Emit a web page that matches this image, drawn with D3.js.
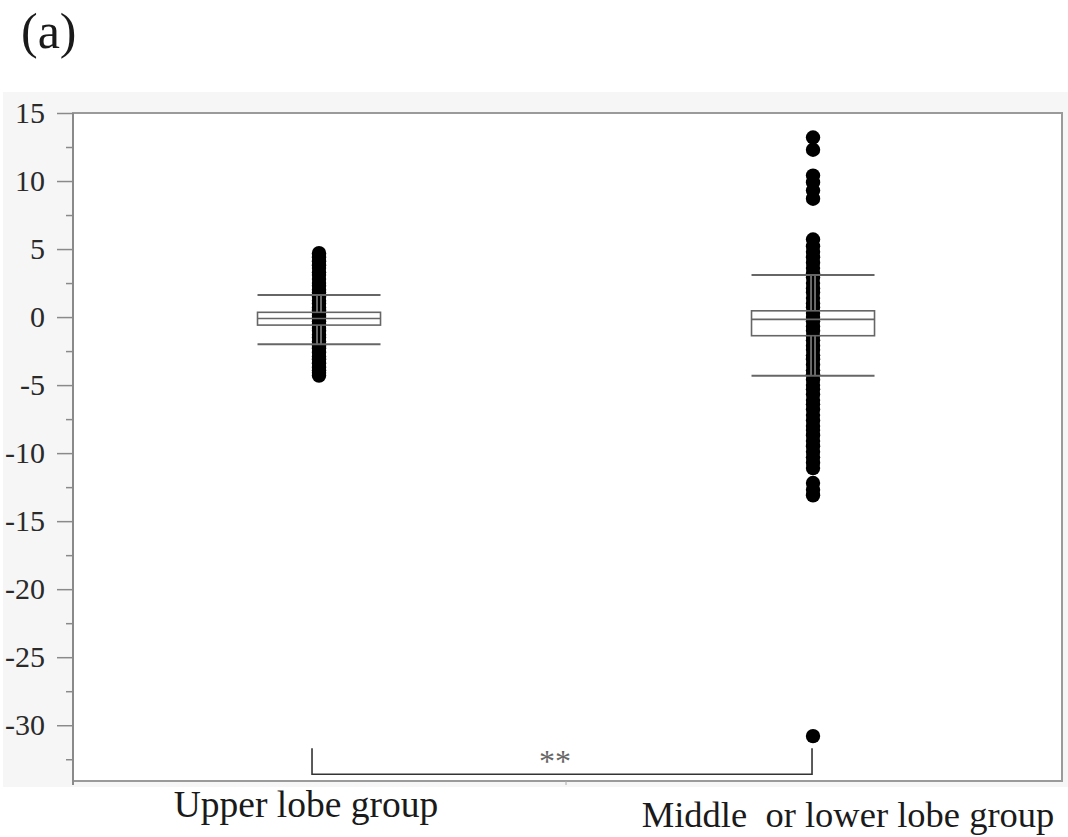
<!DOCTYPE html>
<html>
<head>
<meta charset="utf-8">
<script src="https://cdn.jsdelivr.net/npm/d3@7"></script>
<style>
  html, body { margin: 0; padding: 0; background: #fff; }
  svg { display: block; }
  text { font-family: "Liberation Serif", "Times New Roman", serif; white-space: pre; }
</style>
</head>
<body>
<svg id="chart" width="1068" height="837"></svg>
<script>
// ---- data ----
const categories = ["Upper lobe group", "Middle  or lower lobe group"];
const upperValues = [4.7, 4.4, 4.1, 3.8, 3.6, 3.3, 3.1, 2.8, 2.5, 2.3, 2.0, 1.8, 1.5, 1.2, 1.0, 0.7, 0.5, 0.3, 0.1, -0.1, -0.3, -0.5, -0.8, -1.0, -1.3, -1.5, -1.8, -2.1, -2.3, -2.6, -2.9, -3.1, -3.4, -3.7, -3.9, -4.1, -4.3];
const middleValues = [13.2, 12.3, 10.4, 9.9, 9.3, 8.7, 5.7, 5.2, 4.8, 4.4, 4.0, 3.6, 3.2, 2.9, 2.5, 2.1, 1.8, 1.4, 1.0, 0.7, 0.3, 0.0, -0.3, -0.7, -1.0, -1.4, -1.7, -2.1, -2.4, -2.8, -3.1, -3.5, -3.9, -4.2, -4.6, -5.0, -5.3, -5.7, -6.1, -6.4, -6.8, -7.2, -7.6, -8.0, -8.3, -8.7, -9.1, -9.5, -9.9, -10.3, -10.7, -11.1, -12.2, -12.7, -13.1, -30.8];
// box stats: [capLow, q1, median, q3, capHigh]
const upperBox = [-2.0, -0.59, -0.1, 0.35, 1.62];
const middleBox = [-4.32, -1.37, -0.17, 0.46, 3.09];
const yTicks = [15, 10, 5, 0, -5, -10, -15, -20, -25, -30];
const yMinorTicks = [12.5, 7.5, 2.5, -2.5, -7.5, -12.5, -17.5, -22.5, -27.5, -32.5];
const panelLabel = "(a)";
const sigLabel = "**";

const groups = [
  { name: categories[0], values: upperValues, box: upperBox, labelDy: 0, labelDx: -13, labelSize: 37.5 },
  { name: categories[1], values: middleValues, box: middleBox, labelDy: 10, labelDx: 35, labelSize: 36.5 }
];

// ---- layout ----
const svg = d3.select("#chart");
const pLeft = 73, pRight = 1062, pTop = 113, pBottom = 781;

const y = d3.scaleLinear().domain([-34.1, 15]).range([pBottom, pTop]);
const x = d3.scaleLinear().domain([-0.498, 1.504]).range([pLeft, pRight]);
const boxHalf = 61.5;
const r = 7.2;

// outer grey panel
svg.append("rect").attr("x", 3).attr("y", 92).attr("width", 1065).attr("height", 695)
  .attr("fill", "#f6f6f6");
// plot area
svg.append("rect").attr("x", pLeft).attr("y", pTop).attr("width", pRight - pLeft).attr("height", pBottom - pTop)
  .attr("fill", "#ffffff");

// panel label
svg.append("text").attr("x", 21).attr("y", 48).attr("font-size", 50).attr("fill", "#1a1a1a")
  .text(panelLabel);

// y axis major ticks
const yAxis = d3.axisLeft(y).tickValues(yTicks).tickSize(16).tickPadding(12)
  .tickFormat(d => d3.format("d")(d).replace("−", "-"));
const gy = svg.append("g").attr("transform", `translate(${pLeft},0)`).call(yAxis);
gy.select(".domain").remove();
gy.selectAll(".tick line").attr("stroke", "#8a8a8a").attr("stroke-width", 1.5);
gy.selectAll(".tick text").attr("font-size", 30).attr("fill", "#2a2a2a")
  .attr("font-family", '"Liberation Serif", "Times New Roman", serif');

const yMinor = d3.axisLeft(y).tickValues(yMinorTicks).tickSize(7).tickFormat("");
const gym = svg.append("g").attr("transform", `translate(${pLeft},0)`).call(yMinor);
gym.select(".domain").remove();
gym.selectAll(".tick line").attr("stroke", "#8a8a8a").attr("stroke-width", 1.5);

// frame
svg.append("rect").attr("x", pLeft).attr("y", pTop).attr("width", pRight - pLeft).attr("height", pBottom - pTop)
  .attr("fill", "none").attr("stroke", "#9a9a9a").attr("stroke-width", 2);
// left axis extension
svg.append("line").attr("x1", pLeft).attr("x2", pLeft).attr("y1", pTop).attr("y2", pBottom + 4)
  .attr("stroke", "#8a8a8a").attr("stroke-width", 2);
// x separator tick
svg.append("line").attr("x1", x(0.5)).attr("x2", x(0.5)).attr("y1", pBottom).attr("y2", pBottom + 4)
  .attr("stroke", "#aaa").attr("stroke-width", 1);

// groups
groups.forEach((g, i) => {
  const cx = x(i);
  const [lo, q1, med, q3, hi] = g.box;
  const gg = svg.append("g");
  // box fill
  gg.append("rect").attr("x", cx - boxHalf).attr("y", y(q3)).attr("width", 2 * boxHalf)
    .attr("height", y(q1) - y(q3)).attr("fill", "#fff");
  // points
  gg.selectAll("circle").data(g.values).join("circle")
    .attr("cx", cx).attr("cy", d => y(d)).attr("r", r).attr("fill", "#000");
  // whisker double lines
  [-2, 2].forEach(off => {
    gg.append("line").attr("x1", cx + off).attr("x2", cx + off).attr("y1", y(hi)).attr("y2", y(q3))
      .attr("stroke", "#cfcfcf").attr("stroke-width", 1);
    gg.append("line").attr("x1", cx + off).attr("x2", cx + off).attr("y1", y(q1)).attr("y2", y(lo))
      .attr("stroke", "#cfcfcf").attr("stroke-width", 1);
  });
  // box outline
  gg.append("rect").attr("x", cx - boxHalf).attr("y", y(q3)).attr("width", 2 * boxHalf)
    .attr("height", y(q1) - y(q3)).attr("fill", "none").attr("stroke", "#666").attr("stroke-width", 1.6);
  // median
  gg.append("line").attr("x1", cx - boxHalf).attr("x2", cx + boxHalf).attr("y1", y(med)).attr("y2", y(med))
    .attr("stroke", "#666").attr("stroke-width", 1.6);
  // caps
  [lo, hi].forEach(v => {
    gg.append("line").attr("x1", cx - boxHalf).attr("x2", cx + boxHalf).attr("y1", y(v)).attr("y2", y(v))
      .attr("stroke", "#666").attr("stroke-width", 2);
  });
  // category label
  svg.append("text").attr("x", cx + g.labelDx).attr("y", pBottom + 36 + g.labelDy)
    .attr("text-anchor", "middle").attr("font-size", g.labelSize).attr("fill", "#1a1a1a")
    .text(g.name);
});

// significance bracket
const bx1 = x(0) - 7, bx2 = x(1) - 1;
const byTop = y(-31.7), byBot = y(-33.6);
svg.append("path")
  .attr("d", `M${bx1},${byTop}V${byBot}H${bx2}V${byTop}`)
  .attr("fill", "none").attr("stroke", "#333").attr("stroke-width", 1.6);
svg.append("text").attr("x", (bx1 + bx2) / 2 - 7).attr("y", y(-32.5) + 13)
  .attr("text-anchor", "middle").attr("font-size", 32).attr("fill", "#666")
  .text(sigLabel);
</script>
</body>
</html>
